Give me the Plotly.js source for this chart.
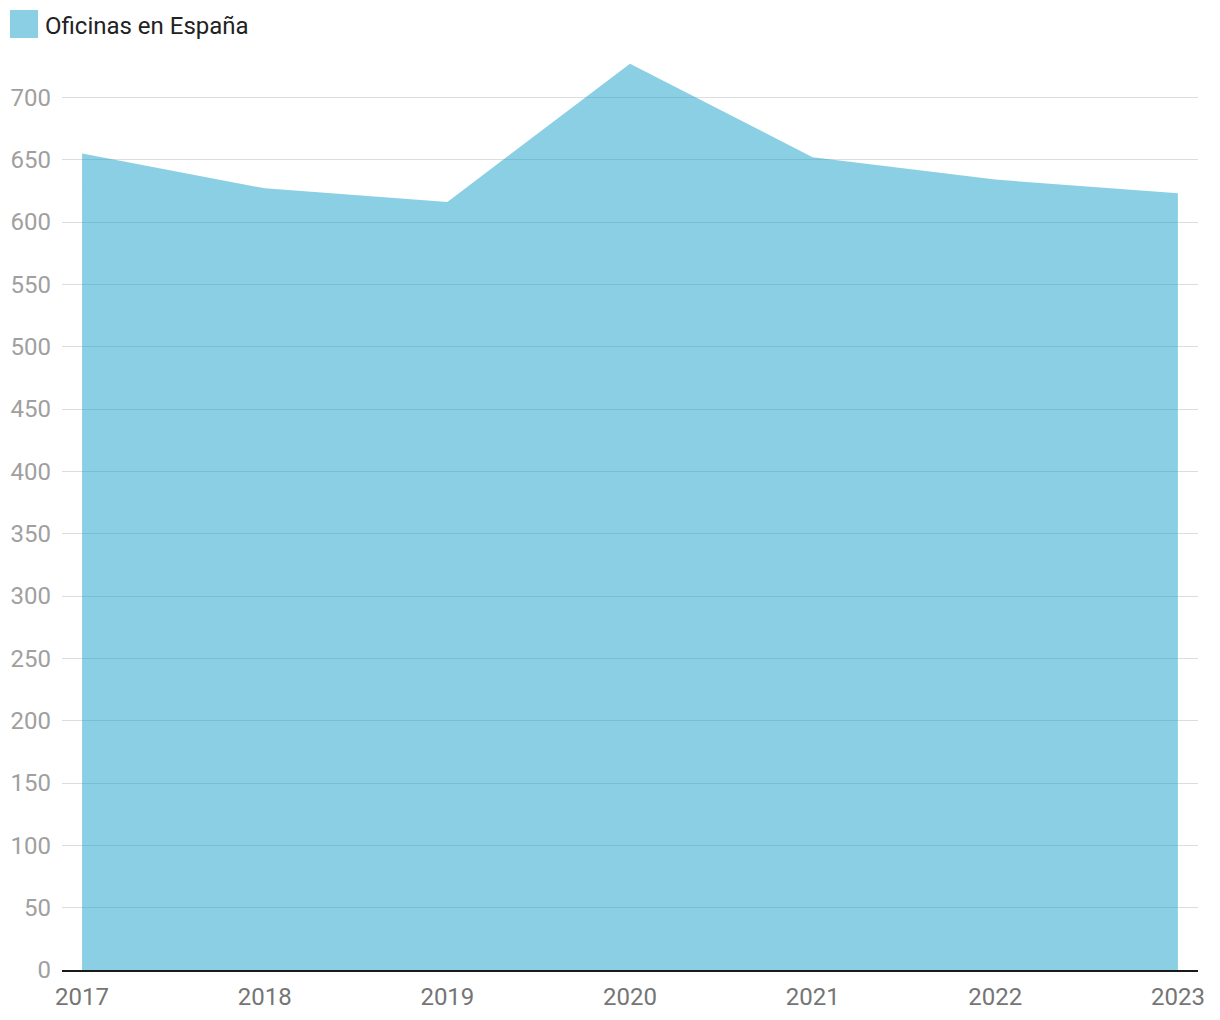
<!DOCTYPE html>
<html>
<head>
<meta charset="utf-8">
<script src="https://cdn.plot.ly/plotly-3.0.1.min.js"></script>
<style>
  html, body { margin: 0; padding: 0; background: #fff; }
  #chart { width: 1220px; height: 1020px; }
</style>
</head>
<body>
<div id="chart"></div>
<script>
const years = ["2017", "2018", "2019", "2020", "2021", "2022", "2023"];
const oficinas = [655, 627, 616, 727, 652, 634, 623];
const seriesName = "Oficinas en España";
const yTicks = [0, 50, 100, 150, 200, 250, 300, 350, 400, 450, 500, 550, 600, 650, 700];

const trace = {
  x: years.map((_, i) => i),
  y: oficinas,
  type: "scatter",
  mode: "none",
  fill: "tozeroy",
  fillcolor: "rgba(23,159,201,0.5)",
  name: seriesName,
  showlegend: false,
  hoverinfo: "x+y"
};

const layout = {
  width: 1220,
  height: 1020,
  margin: { l: 62, r: 22, t: 40, b: 50 },
  paper_bgcolor: "#ffffff",
  plot_bgcolor: "#ffffff",
  font: { family: "Roboto, sans-serif", size: 24, color: "#9e9e9e" },
  showlegend: false,
  xaxis: {
    range: [-0.11, 6.11],
    tickmode: "array",
    tickvals: years.map((_, i) => i),
    ticktext: years,
    showgrid: false,
    zeroline: false,
    showline: true,
    linecolor: "#1a1a1a",
    linewidth: 2,
    ticks: "",
    ticklabelstandoff: 4,
    tickfont: { family: "Roboto, sans-serif", size: 24, color: "#757575" },
    fixedrange: true
  },
  yaxis: {
    range: [0, 746],
    tickmode: "array",
    tickvals: yTicks,
    showgrid: true,
    gridcolor: "#dddddd",
    gridwidth: 1,
    zeroline: false,
    showline: false,
    ticks: "",
    ticklabelstandoff: 10,
    tickfont: { family: "Roboto, sans-serif", size: 24, color: "#a0a0a0" },
    fixedrange: true
  },
  shapes: [
    {
      type: "rect", xref: "paper", yref: "paper",
      xsizemode: "pixel", ysizemode: "pixel",
      xanchor: 0, yanchor: 1,
      x0: -52, x1: -24, y0: 30, y1: 2,
      fillcolor: "#8bcfe4", line: { width: 0 }
    }
  ],
  annotations: [
    {
      xref: "paper", yref: "paper",
      x: 0, y: 1, xanchor: "left", yanchor: "middle",
      xshift: -19, yshift: 14,
      text: seriesName, showarrow: false,
      font: { family: "Roboto, sans-serif", size: 24, color: "#222222" }
    }
  ]
};

Plotly.newPlot("chart", [trace], layout, { displayModeBar: false, staticPlot: true });
</script>
</body>
</html>
